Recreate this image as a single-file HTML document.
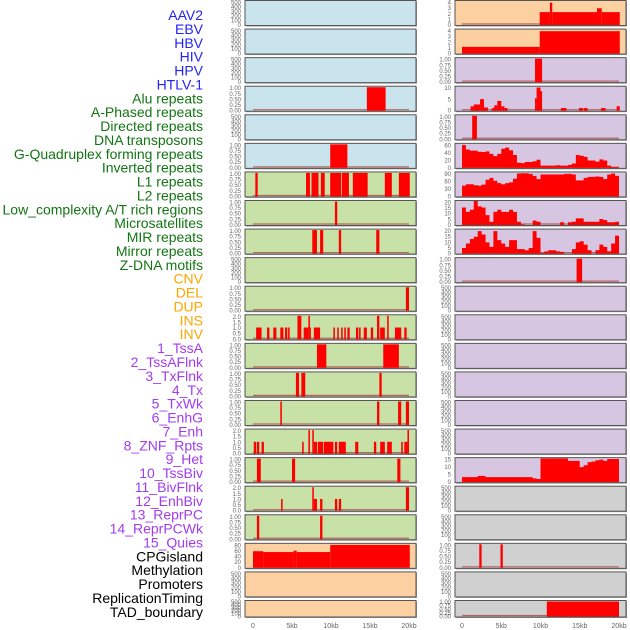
<!DOCTYPE html>
<html><head><meta charset="utf-8"><style>
html,body{margin:0;padding:0;background:#fff;}
svg{display:block;font-family:"Liberation Sans",sans-serif;}
</style></head><body>
<svg id="chart" width="630" height="630" viewBox="0 0 630 630" xmlns="http://www.w3.org/2000/svg"></svg>
<script>
// ---- data ----
const labelNames = ["AAV2","EBV","HBV","HIV","HPV","HTLV-1","Alu repeats","A-Phased repeats","Directed repeats","DNA transposons","G-Quadruplex forming repeats","Inverted repeats","L1 repeats","L2 repeats","Low_complexity A/T rich regions","Microsatellites","MIR repeats","Mirror repeats","Z-DNA motifs","CNV","DEL","DUP","INS","INV","1_TssA","2_TssAFlnk","3_TxFlnk","4_Tx","5_TxWk","6_EnhG","7_Enh","8_ZNF_Rpts","9_Het","10_TssBiv","11_BivFlnk","12_EnhBiv","13_ReprPC","14_ReprPCWk","15_Quies","CPGisland","Methylation","Promoters","ReplicationTiming","TAD_boundary"];
const labelGroups = ["v","v","v","v","v","v","r","r","r","r","r","r","r","r","r","r","r","r","r","c","c","c","c","c","s","s","s","s","s","s","s","s","s","s","s","s","s","s","s","o","o","o","o","o"];
const xTickLabels = ["0","5kb","10kb","15kb","20kb"];
const xTickValues = [0,5,10,15,20];

const ticks500 = [0,100,200,300,400,500];
const ticks1 = [0,0.25,0.5,0.75,1.0];
const ticks2 = [0,0.5,1.0,1.5,2.0];
const ticks4 = [0,1,2,3,4];
const ticks80 = [0,20,40,60,80];
const ticks60 = [0,20,40,60];
const ticks90 = [0,30,60,90];
const ticks20 = [0,5,10,15,20];
const ticks10 = [0,5,10];
const ticks15 = [0,5,10,15];

// segments: [startKb, endKb, value]
const segHIV = [[14.6,17.0,1]];
const segHTLV = [[9.9,12.1,1]];
const segAlu = [[0.3,0.6,1],[6.8,7.3,1],[7.5,8.4,1],[8.7,9.2,1],[9.9,11.3,1],[11.4,12.3,1],[12.8,14.7,1],[16.9,17.8,1],[18.7,20.1,1]];
const segAPhased = [[10.5,10.8,1]];
const segDirected = [[7.6,8.2,1],[8.6,9.0,1],[11.0,11.3,1],[15.8,16.2,1]];
const segGQuad = [[19.6,20.0,1]];
const segInverted = [[0.4,1.1,1],[1.8,2.1,1],[2.6,3.0,1],[3.5,3.9,1],[4.1,4.4,1],[4.5,4.7,1],[5.7,6.2,2],[6.5,7.1,1],[7.1,7.3,2],[7.3,7.4,1],[7.8,8.6,1],[10.3,10.5,1],[10.8,11.0,1],[11.3,11.5,1],[11.7,11.9,1],[12.1,12.4,1],[13.2,13.5,1],[13.6,13.8,1],[14.2,14.6,1],[15.1,15.4,1],[15.9,16.2,2],[16.3,16.9,1],[17.2,17.4,2],[18.2,19.0,1],[19.4,19.7,1]];
const segL1 = [[8.2,9.4,1],[16.7,18.7,1]];
const segL2 = [[5.5,5.9,1],[6.2,6.7,1],[16.2,16.5,1]];
const segLowComplex = [[3.5,3.7,1],[15.9,16.2,1],[18.6,19.0,1],[19.6,20.0,1]];
const segMicro = [[0.1,0.4,1],[0.5,0.8,1],[1.1,1.4,1],[6.3,6.5,1],[7.1,7.3,2],[7.6,7.8,2],[7.8,8.2,1],[8.3,9.0,1],[9.1,10.3,1],[10.5,10.8,1],[11.0,11.9,1],[13.1,13.5,1],[15.5,15.8,1],[16.3,16.9,1],[17.2,17.8,1],[19.0,19.2,1],[19.4,19.8,1],[19.8,20.0,2]];
const segMIR = [[0.5,1.0,1],[5.0,5.4,1],[18.5,18.9,1]];
const segMirror = [[3.6,3.8,1],[7.6,7.8,2],[7.8,8.2,1],[8.6,8.9,1],[10.5,10.8,1],[11.0,11.3,1],[19.6,20.0,2]];
const segZDNA = [[0.5,0.8,1],[8.6,8.9,1]];
const segCNV = [[0,1.3,58],[1.3,5.2,55],[5.2,5.6,60],[5.6,9.9,55],[9.9,20.1,80]];
const segR0 = [[9.9,11.2,2.3],[11.2,11.5,4],[11.5,17.2,2.3],[17.2,17.8,3],[17.8,20.1,2.3]];
const segR1 = [[0,9.9,1.2],[9.9,20.1,4]];
const segR2 = [[9.3,10.2,1]];
const segR3 = [[1.1,1.5,2.5],[1.5,2.3,3.5],[2.3,2.8,6.5],[2.8,3.3,1.8],[3.8,4.1,1.5],[4.1,4.5,3],[4.5,5.0,5.5],[5.0,5.4,2.5],[5.4,5.8,1.5],[9.3,9.5,7],[9.5,10.0,13],[10.0,10.2,11],[12.6,13.3,1.5],[14.9,15.4,1.5],[15.5,16.0,1.5],[17.7,18.3,1.5],[19.7,20.1,2.5]];
const segR4 = [[1.3,1.9,1]];
const segR9 = [[14.6,15.3,1]];
const segR19 = [[2.2,2.5,1],[4.9,5.2,1]];
const segR21 = [[10.8,20.0,1]];

// profiles: 40 bins of 0.5kb
const profG4 = [62,50,47,47,44,43,45,38,32,38,52,55,48,35,14,13,16,16,18,22,6,6,6,6,7,6,6,8,12,35,33,30,20,20,17,23,20,6,3,3];
const profLINE = [55,62,62,57,55,60,85,95,80,68,62,68,72,90,117,118,118,115,105,88,112,112,112,112,112,112,115,115,112,82,82,95,100,100,102,100,88,112,117,105];
const profLowC = [16,12,14,22,17,16,9,3,12,14,12,12,14,12,3,0.5,0,0,4,3,0,0,0,0,0,2.5,0,2.5,3,6,6,3,3,3,3,5.5,4.5,2.5,2.5,3];
const profMIR = [5,9,13,15,20,17,10,6,20,12,9,6,12,12,4,4,3,5,20,14,0.5,2,3,3,2,1.5,0,0,4,10,11,8,3,0,3,8,6,2,9,16];
const profR16 = [4,4,4,4,5,5,4,4,4,4,4,4,4,4,4,4,4,4,3,2.5,19,19,19,19,19,19,19,17,17,17,12,13.5,16,16.5,17.5,18,17,18.5,18.5,18.5];

// ---- rendering ----
const NS = "http://www.w3.org/2000/svg";
const svg = document.getElementById("chart");
function mk(tag, attrs, parent){ const e=document.createElementNS(NS,tag); for(const k in attrs) e.setAttribute(k,attrs[k]); (parent||svg).appendChild(e); return e; }

const groupColor = {v:"#2323f5",r:"#137513",c:"#ffa500",s:"#a23cf0",o:"#000000"};
labelNames.forEach((n,i)=>{
  const t = mk("text",{x:203,y:15+i*13.88+5,"text-anchor":"end","font-size":"14",fill:groupColor[labelGroups[i]]});
  t.textContent = n;
  
  
});

const cols = [{fx:245,fw:171,x0:253,sc:7.8},{fx:455,fw:171,x0:462,sc:7.85}];
const BG = {b:"#c9e4ec",g:"#c7e1a6",o:"#fdd0a2",p:"#d6c6e2",y:"#d0d0d0"};

// panel list: [col,row,bg,ticks,ymax,segments,profile,baseline]
const panels = [
 [0,0,"b",ticks500,520,null,null,false],[0,1,"b",ticks500,520,null,null,false],[0,2,"b",ticks500,520,null,null,false],
 [0,3,"b",ticks1,1,segHIV,null,true],[0,4,"b",ticks500,520,null,null,false],[0,5,"b",ticks1,1,segHTLV,null,true],
 [0,6,"g",ticks1,1,segAlu,null,true],[0,7,"g",ticks1,1,segAPhased,null,true],[0,8,"g",ticks1,1,segDirected,null,true],
 [0,9,"g",ticks500,520,null,null,false],[0,10,"g",ticks1,1,segGQuad,null,true],[0,11,"g",ticks2,2,segInverted,null,true],
 [0,12,"g",ticks1,1,segL1,null,true],[0,13,"g",ticks1,1,segL2,null,true],[0,14,"g",ticks1,1,segLowComplex,null,true],
 [0,15,"g",ticks2,2,segMicro,null,true],[0,16,"g",ticks1,1,segMIR,null,true],[0,17,"g",ticks2,2,segMirror,null,true],
 [0,18,"g",ticks1,1,segZDNA,null,true],[0,19,"o",ticks80,82,segCNV,null,false],[0,20,"o",ticks500,520,null,null,false],
 [0,21,"o",ticks500,520,null,null,false],
 [1,0,"o",ticks4,4.2,segR0,null,true],[1,1,"o",ticks4,4.2,segR1,null,false],[1,2,"p",ticks1,1,segR2,null,true],
 [1,3,"p",ticks10,13.2,segR3,null,true],[1,4,"p",ticks1,1,segR4,null,true],[1,5,"p",ticks60,64,null,profG4,false],
 [1,6,"p",ticks90,120,null,profLINE,false],[1,7,"p",ticks20,21.5,null,profLowC,true],[1,8,"p",ticks20,21,null,profMIR,true],
 [1,9,"p",ticks1,1,segR9,null,true],[1,10,"p",ticks500,520,null,null,false],[1,11,"p",ticks500,520,null,null,false],
 [1,12,"p",ticks500,520,null,null,false],[1,13,"p",ticks500,520,null,null,false],[1,14,"p",ticks500,520,null,null,false],
 [1,15,"p",ticks500,520,null,null,false],[1,16,"p",ticks15,18.8,null,profR16,false],[1,17,"y",ticks500,520,null,null,false],
 [1,18,"y",ticks500,520,null,null,false],[1,19,"y",ticks1,1,segR19,null,true],[1,20,"y",ticks500,520,null,null,false],
 [1,21,"y",ticks1,1,segR21,null,true]
];

panels.forEach(p=>{
  const [ci,row,bg,ticks,ymax,segs,prof,base] = p;
  const c = cols[ci];
  const top = row===21 ? 600.5 : row*28.57+0.5;
  const h = row===21 ? 16.5 : 25;
  const xs = kb => c.x0 + kb*c.sc;
  const ys = v => top + h - 0.5 - (v/ymax)*(h-1.5);
  const g = mk("g",{});
  
  
  mk("rect",{x:c.fx+1,y:top+1,width:c.fw,height:h,fill:"#999"},g);
  const r = mk("rect",{x:c.fx,y:top,width:c.fw,height:h,fill:BG[bg],stroke:"#555","stroke-width":1},g);
  
  
  if(base){
    mk("line",{x1:xs(0),x2:xs(20),y1:top+h-1.5,y2:top+h-1.5,stroke:"#b04848","stroke-width":1.2,"stroke-opacity":0.8},g);
  }
  if(segs){
    segs.forEach(s=>{
      const b = mk("rect",{x:xs(s[0]),y:ys(s[2]),width:Math.max(1,xs(s[1])-xs(s[0])),height:ys(0)-ys(s[2]),fill:"#ff0000"},g);
      
      
    });
  }
  if(prof){
    let d = "M"+xs(0)+","+ys(0);
    prof.forEach((v,i)=>{ d += " L"+xs(i*0.5)+","+ys(v)+" L"+xs(i*0.5+0.5)+","+ys(v); });
    d += " L"+xs(20)+","+ys(0)+" Z";
    const a = mk("path",{d:d,fill:"#ff0000"},g);
    
    
  }
  const tmax = ticks[ticks.length-1];
  ticks.forEach((t,i)=>{
    let y = top + h - 0.5 - (t/tmax)*(h-2.5);
    if(row===21) y = top + h - 0.5 - (i/(ticks.length-1))*(h-2);
    const dec = ticks===ticks1 ? 2 : (ticks===ticks2 ? 1 : 0);
    const tx = mk("text",{x:c.fx-4,y:y+2,"text-anchor":"end","font-size":"6",fill:"#666"},g);
    tx.textContent = t.toFixed(dec);
    
    
  });
});

cols.forEach(c=>{
  xTickValues.forEach((v,i)=>{
    const t = mk("text",{x:c.x0+v*c.sc,y:628,"text-anchor":"middle","font-size":"7",fill:"#666"});
    t.textContent = xTickLabels[i];
    
    
  });
});
</script>
</body></html>
